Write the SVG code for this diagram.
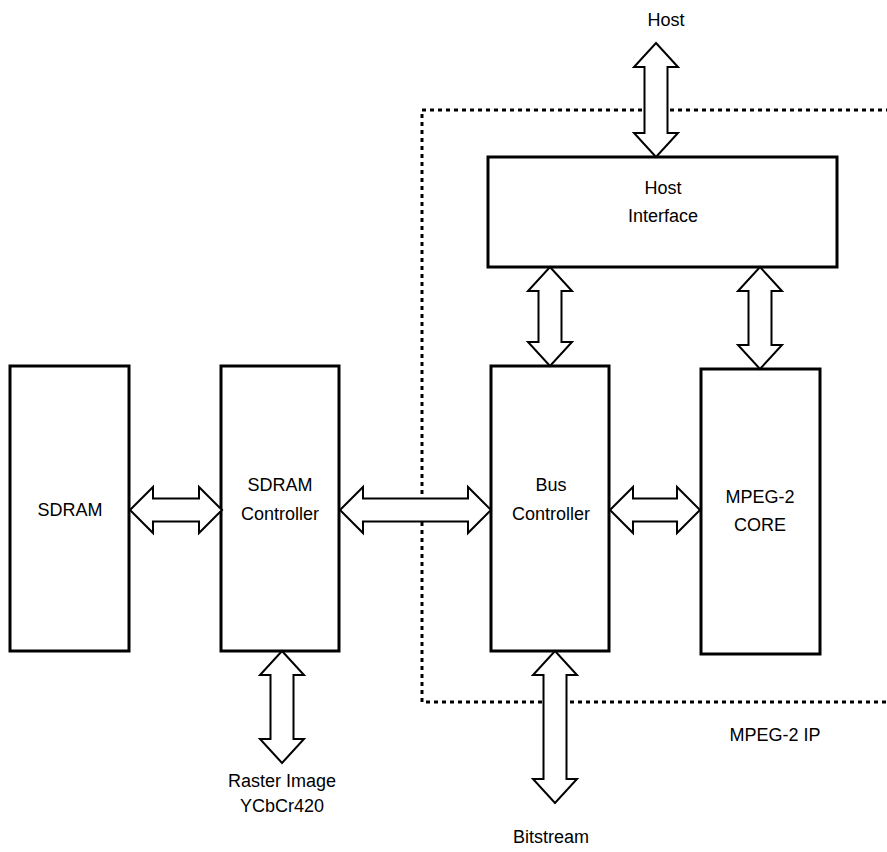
<svg xmlns="http://www.w3.org/2000/svg" width="887" height="852" viewBox="0 0 887 852">
<style>
.box{fill:#fff;stroke:#000;stroke-width:3}
.arr{fill:#fff;stroke:#000;stroke-width:2;stroke-linejoin:miter}
.dot{fill:none;stroke:#000;stroke-width:3;stroke-dasharray:4 4}
text{font-family:"Liberation Sans",Arial,sans-serif;font-size:18px;fill:#000;text-anchor:middle}
</style>
<rect width="887" height="852" fill="#fff"/>
<g id="ip-boundary">
<path class="dot" d="M890,110 L422,110 L422,702 L890,702"/>
<text x="775" y="741">MPEG-2 IP</text>
</g>
<g id="sdram"><rect class="box" x="10" y="366" width="119" height="285"/><text x="70" y="516">SDRAM</text></g>
<g id="sdram-controller"><rect class="box" x="221" y="366" width="118" height="285"/><text x="280" y="491">SDRAM</text><text x="280" y="520">Controller</text></g>
<g id="bus-controller"><rect class="box" x="491" y="366" width="118" height="285"/><text x="551" y="491">Bus</text><text x="551" y="520">Controller</text></g>
<g id="mpeg2-core"><rect class="box" x="701" y="369" width="119" height="285"/><text x="760" y="503">MPEG-2</text><text x="760" y="531">CORE</text></g>
<g id="host-interface"><rect class="box" x="488" y="157" width="349" height="110"/><text x="663" y="194">Host</text><text x="663" y="222">Interface</text></g>
<g id="host"><text x="666" y="26">Host</text></g>
<g id="raster"><text x="282" y="787">Raster Image</text><text x="282" y="812">YCbCr420</text></g>
<g id="bitstream"><text x="551" y="843">Bitstream</text></g>
<g id="connectors">
<path class="arr" d="M656,43 L678,67 L667.5,67 L667.5,133 L678,133 L656,157 L634,133 L644.5,133 L644.5,67 L634,67 Z"/>
<path class="arr" d="M550,267 L572,291 L561.5,291 L561.5,342 L572,342 L550,366 L528,342 L538.5,342 L538.5,291 L528,291 Z"/>
<path class="arr" d="M760,267 L782,291 L771.5,291 L771.5,345 L782,345 L760,369 L738,345 L748.5,345 L748.5,291 L738,291 Z"/>
<path class="arr" d="M282,651 L304,675 L293.5,675 L293.5,739 L304,739 L282,763 L260,739 L270.5,739 L270.5,675 L260,675 Z"/>
<path class="arr" d="M555,651 L577,675 L566.5,675 L566.5,779 L577,779 L555,803 L533,779 L543.5,779 L543.5,675 L533,675 Z"/>
<path class="arr" d="M130,510 L153,487 L153,498.5 L199,498.5 L199,487 L222,510 L199,533 L199,521.5 L153,521.5 L153,533 Z"/>
<path class="arr" d="M340,510 L363,487 L363,498.5 L468,498.5 L468,487 L491,510 L468,533 L468,521.5 L363,521.5 L363,533 Z"/>
<path class="arr" d="M610,510 L633,487 L633,498.5 L677,498.5 L677,487 L700,510 L677,533 L677,521.5 L633,521.5 L633,533 Z"/>
</g>
</svg>
